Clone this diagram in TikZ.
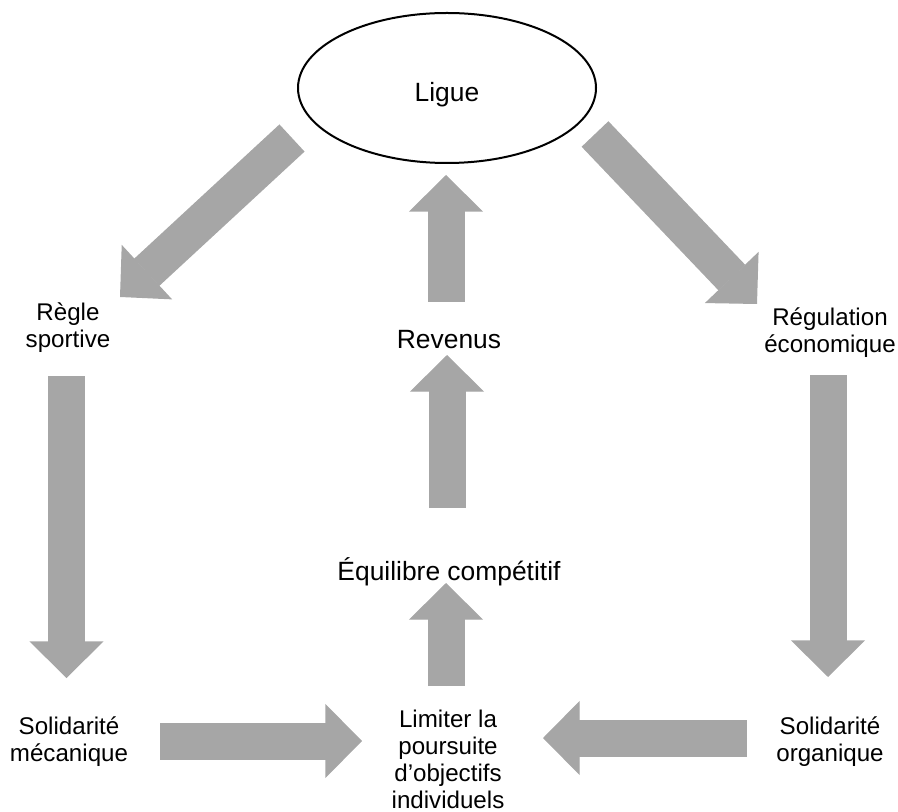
\documentclass[tikz,border=0pt]{standalone}
\usepackage{fontspec}
\setmainfont{Liberation Sans}
\usetikzlibrary{arrows.meta,shapes.geometric}
\definecolor{grisfleche}{HTML}{A6A6A6}

\begin{document}
\begin{tikzpicture}[x=0.75pt,y=-0.75pt,
    fleche/.style={draw=grisfleche, fill=grisfleche, line width=27.75pt,
        -{Triangle[width=55.5pt,length=27.5pt,line width=1pt]}},
    petit/.style={align=center, inner sep=0pt,
        font=\fontsize{18.1}{20.3}\selectfont},
    grand/.style={align=center, inner sep=0pt,
        font=\fontsize{19.8}{23}\selectfont}]
        \useasboundingbox (0,0) rectangle (898,812);
        % noeuds
        \node[ellipse, draw, line width=1.5pt, minimum width=223.5pt, minimum height=112.5pt, text height=21pt, text depth=0pt, grand] (ligue) at (447,88) {Ligue};
        \node[petit] (regle) at (68,328) {Règle\\sportive};
        \node[petit] (regul) at (830,333) {Régulation\\économique};
        \node[grand] (revenus) at (449,340) {Revenus};
        \node[grand] (equil) at (449,572) {Équilibre compétitif};
        \node[petit] (solmec) at (69,742) {Solidarité\\mécanique};
        \node[petit] (solorg) at (830,742) {Solidarité\\organique};
        \node[petit] (limiter) at (448,759) {Limiter la\\poursuite\\d’objectifs\\individuels};
        % extremites des fleches
        \coordinate (a1) at (292,138); \coordinate (a2) at (120,297);
        \coordinate (a3) at (595,134); \coordinate (a4) at (757,304);
        \coordinate (a5) at (446,302); \coordinate (a6) at (446,175);
        \coordinate (a7) at (447,508); \coordinate (a8) at (447,355);
        \coordinate (a9) at (446,686); \coordinate (a10) at (446,583);
        \coordinate (a11) at (66.5,376); \coordinate (a12) at (66.5,678);
        \coordinate (a13) at (828,375); \coordinate (a14) at (828,677);
        \coordinate (a15) at (160,741); \coordinate (a16) at (362,741);
        \coordinate (a17) at (747,738); \coordinate (a18) at (543,738);
        \draw[fleche] (a1) -- (a2);
        \draw[fleche] (a3) -- (a4);
        \draw[fleche] (a5) -- (a6);
        \draw[fleche] (a7) -- (a8);
        \draw[fleche] (a9) -- (a10);
        \draw[fleche] (a11) -- (a12);
        \draw[fleche] (a13) -- (a14);
        \draw[fleche] (a15) -- (a16);
        \draw[fleche] (a17) -- (a18);
\end{tikzpicture}
\end{document}
